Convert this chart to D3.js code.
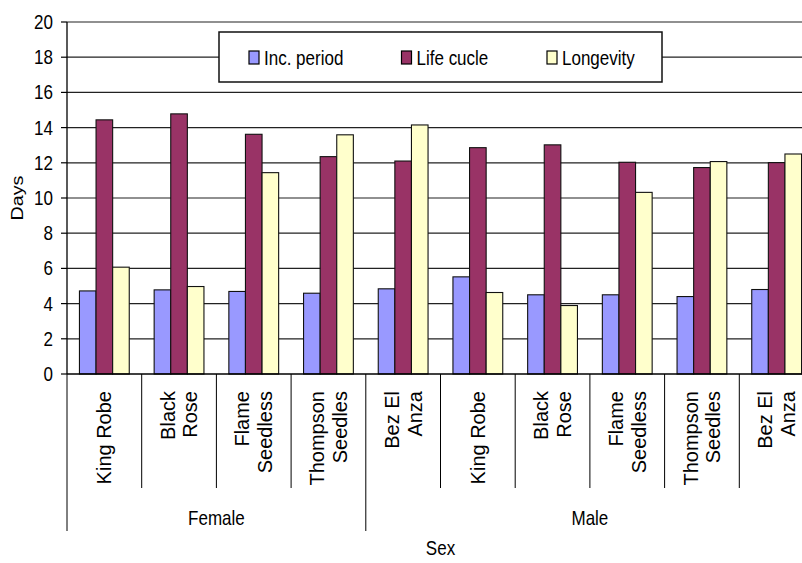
<!DOCTYPE html>
<html>
<head>
<meta charset="utf-8">
<script src="https://cdn.jsdelivr.net/npm/d3@7"></script>
<style>
  body { margin: 0; background: #fff; }
  text { font-family: "Liberation Sans", Arial, sans-serif; fill: #000; }
</style>
</head>
<body>
<svg id="chart" width="802" height="563"></svg>
<script>
// Chart data
const categories = ["King Robe", "Black\nRose", "Flame\nSeedless", "Thompson\nSeedles", "Bez El\nAnza",
                    "King Robe", "Black\nRose", "Flame\nSeedless", "Thompson\nSeedles", "Bez El\nAnza"];
const sexGroups = ["Female", "Male"];
const sexSize = [4, 6];
const seriesNames = ["Inc. period", "Life cucle", "Longevity"];
const seriesColors = ["#9999FF", "#993366", "#FFFFCC"];
const incPeriod = [4.72, 4.78, 4.69, 4.59, 4.84, 5.52, 4.50, 4.50, 4.40, 4.80];
const lifeCycle = [14.44, 14.78, 13.62, 12.35, 12.10, 12.86, 13.02, 12.03, 11.73, 12.01];
const longevity = [6.07, 4.97, 11.44, 13.59, 14.15, 4.63, 3.89, 10.32, 12.07, 12.50];
const yTicks = [0, 2, 4, 6, 8, 10, 12, 14, 16, 18, 20];

const series = [incPeriod, lifeCycle, longevity];
const svg = d3.select("#chart");
const SY = 1.16; // the reference is stretched vertically
const fs = 17;

// Plot area (runs past the right edge, as in the reference)
const plotLeft = 67, plotRight = 814, plotTop = 22, plotBottom = 374;

const x0 = d3.scaleBand().domain(d3.range(categories.length)).range([plotLeft, plotRight]);
const x1 = d3.scaleBand().domain(d3.range(series.length))
    .range([0, x0.bandwidth()]).paddingOuter(0.75);
const y = d3.scaleLinear().domain([0, 20]).range([plotBottom, plotTop]);

// Gridlines
svg.append("g").selectAll("line")
    .data(yTicks.filter(d => d > 0))
    .enter().append("line")
    .attr("x1", plotLeft).attr("x2", 802)
    .attr("y1", d => y(d)).attr("y2", d => y(d))
    .attr("stroke", "#222").attr("stroke-width", 1.2);

// Bars
const groups = svg.append("g").selectAll("g")
    .data(categories.map((c, i) => i))
    .enter().append("g")
    .attr("transform", i => `translate(${x0(i)},0)`);

groups.selectAll("rect")
    .data(i => series.map((s, k) => ({ k: k, v: s[i] })))
    .enter().append("rect")
    .attr("x", d => x1(d.k))
    .attr("width", x1.bandwidth())
    .attr("y", d => y(d.v))
    .attr("height", d => y(0) - y(d.v))
    .attr("fill", d => seriesColors[d.k])
    .attr("stroke", "#111").attr("stroke-width", 1.1);

// Y axis line and ticks
svg.append("line").attr("x1", plotLeft).attr("x2", plotLeft).attr("y1", plotTop).attr("y2", plotBottom)
    .attr("stroke", "#000").attr("stroke-width", 1.3);
svg.append("g").selectAll("line")
    .data(yTicks).enter().append("line")
    .attr("x1", plotLeft - 6).attr("x2", plotLeft)
    .attr("y1", d => y(d)).attr("y2", d => y(d))
    .attr("stroke", "#000").attr("stroke-width", 1.2);
svg.append("g").selectAll("text")
    .data(yTicks).enter().append("text")
    .attr("text-anchor", "end")
    .attr("font-size", fs)
    .attr("transform", d => `translate(${plotLeft - 14},${y(d) + 6 * SY}) scale(1,${SY})`)
    .text(d => d);

// X axis line
svg.append("line").attr("x1", plotLeft).attr("x2", 802).attr("y1", plotBottom).attr("y2", plotBottom)
    .attr("stroke", "#000").attr("stroke-width", 1.3);

// Category dividers
svg.append("g").selectAll("line")
    .data(d3.range(categories.length + 1)).enter().append("line")
    .attr("x1", i => plotLeft + i * x0.step()).attr("x2", i => plotLeft + i * x0.step())
    .attr("y1", plotBottom).attr("y2", 488)
    .attr("stroke", "#000").attr("stroke-width", 1);

// Group dividers
let start = 0;
const groupBounds = sexSize.map(n => { const b = [start, start + n]; start += n; return b; });
svg.append("g").selectAll("line")
    .data([0, sexSize[0], categories.length]).enter().append("line")
    .attr("x1", i => plotLeft + i * x0.step()).attr("x2", i => plotLeft + i * x0.step())
    .attr("y1", 488).attr("y2", 531)
    .attr("stroke", "#000").attr("stroke-width", 1);

// Category labels (rotated)
categories.forEach((c, i) => {
    const lines = c.split("\n");
    const cx = x0(i) + x0.bandwidth() / 2;
    lines.forEach((ln, j) => {
        const off = (j - (lines.length - 1) / 2) * 22.7;
        svg.append("text")
            .attr("text-anchor", "end")
            .attr("font-size", 20)
            .attr("transform", `translate(${cx + off + 7},391) rotate(-90)`)
            .text(ln);
    });
});

// Group labels
sexGroups.forEach((g, k) => {
    const cx = plotLeft + (groupBounds[k][0] + groupBounds[k][1]) / 2 * x0.step();
    svg.append("text").attr("text-anchor", "middle").attr("font-size", fs)
        .attr("transform", `translate(${cx},525) scale(1,${SY})`).text(g);
});

// Axis titles
svg.append("text").attr("text-anchor", "middle").attr("font-size", fs)
    .attr("transform", `translate(${(plotLeft + plotRight) / 2},555) scale(1,${SY})`).text("Sex");
svg.append("text").attr("text-anchor", "middle").attr("font-size", fs)
    .attr("transform", `translate(23,${(plotTop + plotBottom) / 2}) scale(1,${SY}) rotate(-90)`).text("Days");

// Legend
const legend = svg.append("g");
legend.append("rect").attr("x", 219).attr("y", 32).attr("width", 443).attr("height", 50)
    .attr("fill", "#fff").attr("stroke", "#111").attr("stroke-width", 1.5);
const legendX = [249, 401.5, 547];
seriesNames.forEach((s, k) => {
    legend.append("rect").attr("x", legendX[k]).attr("y", 51).attr("width", 10).attr("height", 13)
        .attr("fill", seriesColors[k]).attr("stroke", "#000").attr("stroke-width", 1.2);
    legend.append("text").attr("font-size", fs)
        .attr("transform", `translate(${legendX[k] + 15},65) scale(1,${SY})`).text(s);
});
</script>
</body>
</html>
